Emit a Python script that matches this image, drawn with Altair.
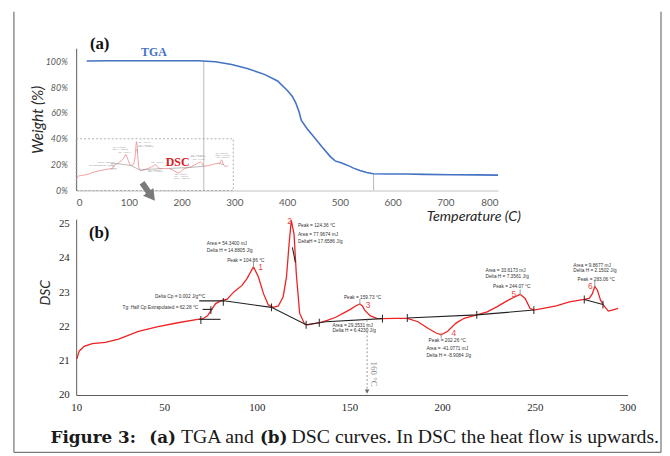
import altair as alt
import pandas as pd

# ---------------- (a) TGA ----------------
TGA_T = [20, 60, 120, 180, 232, 264, 295, 326, 357, 382, 401, 410, 416, 423, 427,
         438, 451, 466, 482, 491, 501, 513, 526, 538, 551, 563, 590, 625, 660, 713, 760, 800]
TGA_W = [100.2, 100.3, 100.3, 100.3, 100.3, 99.5, 97.4, 94.1, 89.8, 84.7, 77.1, 72.7, 68.2, 60.5, 54.2,
         47.8, 41.4, 33.8, 26.2, 22.9, 21.6, 19.8, 17.3, 15.5, 14.0, 13.0, 12.8, 12.7, 12.5, 12.2, 12.1, 11.9]
TGA_GUIDE_T = [242, 564]
TGA_GUIDE_W = [100.3, 13.0]
INSET_T = [0, 298]
INSET_W = [0, 40]
ARROW_T = [125, 143]
ARROW_W = [6.0, -4.5]
TGA_TICKS = [0, 100, 200, 300, 400, 500, 600, 700, 800]
WEIGHT_TICKS = [0, 20, 40, 60, 80, 100]

# ---------------- (b) DSC ----------------
DSC_T = [2.9, 4.1, 6.8, 11.2, 18.3, 25.4, 36.1, 46.7, 57.4, 68.0, 70.7, 73.4, 76.0, 77.8, 80.4,
         84.0, 87.6, 92.0, 94.7, 98.2, 100.9, 103.6, 106.2, 108.9, 111.6, 114.2, 116.0, 117.4,
         118.6, 120.1, 121.3, 123.1, 125.7, 127.5, 133.7, 138.0, 142.6, 147.0, 150.5, 153.3,
         155.6, 157.0, 158.2, 161.3, 164.8, 167.8, 174.6, 181.2, 187.0, 192.3, 196.8, 199.5,
         203.0, 207.5, 211.9, 218.7, 224.3, 229.7, 235.0, 239.4, 242.1, 244.8, 247.4, 249.5,
         254.5, 261.6, 268.7, 276.7, 279.4, 281.1, 282.4, 283.8, 285.5, 287.4, 289.7, 291.8, 295.0]
DSC_V = [21.06, 21.28, 21.42, 21.50, 21.54, 21.63, 21.86, 22.00, 22.11, 22.21, 22.22, 22.31, 22.53, 22.67, 22.75,
         22.80, 23.01, 23.20, 23.40, 23.75, 23.44, 22.96, 22.63, 22.56, 22.60, 22.87, 23.44, 24.41,
         25.10, 24.69, 23.54, 22.39, 22.08, 22.05, 22.11, 22.18, 22.27, 22.40, 22.50, 22.60,
         22.66, 22.60, 22.48, 22.31, 22.24, 22.23, 22.24, 22.24, 22.14, 21.95, 21.81, 21.76,
         21.86, 22.10, 22.24, 22.34, 22.43, 22.58, 22.75, 22.87, 22.94, 22.82, 22.53, 22.48,
         22.53, 22.60, 22.72, 22.79, 22.82, 22.96, 23.17, 23.06, 22.77, 22.60, 22.45, 22.48, 22.53]

BASE_SEG = ["a"] * 6 + ["b"] * 2 + ["c"] * 2 + ["d"] * 3 + ["e"] * 2 + ["f"] * 2
BASE_T = [68.9, 82.2, 107.9, 126.6, 137.3, 167.8, 68.9, 80.4, 70.7, 76.0,
          181.2, 218.7, 249.5, 276.7, 286.8, 119.2, 120.8]
BASE_V = [22.75, 22.75, 22.56, 22.05, 22.14, 22.23, 22.21, 22.21, 22.50, 22.50,
          22.25, 22.34, 22.48, 22.79, 22.64, 24.31, 23.87]

TICK_T = [69.8, 75.2, 81.9, 107.9, 126.6, 133.7, 167.8, 181.2, 218.7, 249.5, 276.7, 286.8]
TICK_V = [22.19, 22.48, 22.72, 22.56, 22.05, 22.11, 22.23, 22.25, 22.34, 22.48, 22.79, 22.64]

PEAK_MARK_T = [98.2, 155.6, 199.5, 242.1, 282.4]
PEAK_MARK_V = [23.80, 22.72, 21.74, 23.00, 23.24]

PEAK_NUM = ["1", "2", "3", "4", "5", "6"]
PEAK_NUM_T = [100.8, 116.4, 158.8, 205.0, 237.4, 278.7]
PEAK_NUM_V = [23.73, 25.08, 22.62, 21.80, 22.96, 23.18]

ANN_TEXT = ["Area = 54.3400 mJ", "Delta H = 14.8805 J/g", "Peak = 104.86 °C",
            "Delta Cp = 0.002 J/g*°C", "Tg: Half Cp Extrapolated = 62.28 °C",
            "Peak = 124.36 °C", "Area = 77.9674 mJ", "DeltaH = 17.6586 J/g",
            "Peak = 159.73 °C", "Area = 29.3531 mJ", "Delta H = 6.4230 J/g",
            "Peak = 202.26 °C", "Area = -41.0771 mJ", "Delta H = -8.9084 J/g",
            "Peak = 244.07 °C", "Area = 33.6173 mJ", "Delta H = 7.3561 J/g",
            "Peak = 283.06 °C", "Area = 9.8677 mJ", "Delta H = 2.1502 J/g"]
ANN_T = [73.0, 73.0, 84.0, 45.0, 27.5, 122.2, 122.2, 122.2, 147.0, 140.9, 140.9,
         192.7, 191.5, 191.5, 227.5, 223.4, 223.4, 273.1, 270.8, 270.8]
ANN_V = [24.41, 24.20, 23.92, 22.87, 22.53, 24.93, 24.66, 24.48, 22.84, 22.02, 21.86,
         21.59, 21.33, 21.15, 23.15, 23.61, 23.44, 23.37, 23.78, 23.61]

GUIDE_T = 159.5
GUIDE_V = [22.2, 20.0]
GUIDE_LABEL = "160 °C"
DSC_TICKS = [2.5, 50, 100, 150, 200, 250, 300]
DSC_Y_TICKS = [20, 21, 22, 23, 24, 25]

CAPTION_PARTS = ["Figure 3:", "(a)", "TGA and", "(b)", "DSC curves. In DSC the heat flow is upwards."]
CAPTION_BOLD = [True, True, False, True, False]

# ---------------- layout constants ----------------
CAPTION_X = [-26, 74, 106, 186, 218]
SANS = "Lato"
SERIF = "Liberation Serif"

# ================= TGA chart =================
tga_x_axis = alt.Axis(values=TGA_TICKS, grid=False, ticks=False, domainColor="#BFBFBF",
                      labelColor="#595959", labelFont=SANS, labelFontSize=10, labelPadding=7,
                      title="Temperature (C)", titleFont=SANS, titleFontSize=14.5,
                      titleFontStyle="italic", titleFontWeight="normal", titleColor="#262626",
                      titleX=402, titleY=26, titleAlign="center", titleBaseline="middle")
tga_y_axis = alt.Axis(values=WEIGHT_TICKS, labelExpr="datum.value + '%'", grid=False, ticks=False,
                      domainColor="#595959", labelColor="#595959", labelFont=SANS,
                      labelFontSize=9, labelFontStyle="italic", labelPadding=9,
                      title="Weight (%)", titleFont=SANS, titleFontSize=15.5,
                      titleFontStyle="italic", titleFontWeight="normal", titleColor="#262626",
                      titleX=-39, titleY=72, titleAngle=270, titleAlign="center",
                      titleBaseline="middle")

TX = alt.X("x:Q", scale=alt.Scale(domain=[0, 800], nice=False, zero=False), axis=tga_x_axis)
TY = alt.Y("y:Q", scale=alt.Scale(domain=[0, 110], nice=False, zero=False), axis=tga_y_axis)

tga_df = pd.DataFrame({"x": TGA_T, "y": TGA_W})
guide_df = pd.DataFrame({"x": TGA_GUIDE_T, "y": TGA_GUIDE_W, "y2": [0, 0]})
inset_df = pd.DataFrame({"x": [INSET_T[0]], "x2": [INSET_T[1]], "y": [INSET_W[0]], "y2": [INSET_W[1]]})
dsc_src = pd.DataFrame({"t": DSC_T, "v": DSC_V})
base_src = pd.DataFrame({"seg": BASE_SEG, "t": BASE_T, "v": BASE_V})
ann_src = pd.DataFrame({"t": ANN_T, "v": ANN_V, "label": ANN_TEXT})
one = pd.DataFrame({"k": [0]})

inset_box = alt.Chart(inset_df).mark_rect(fillOpacity=0, stroke="#9a9a9a", strokeWidth=0.8,
                                          strokeDash=[2, 2]).encode(
    x=TX, x2="x2:Q", y=TY, y2="y2:Q")
guides = alt.Chart(guide_df).mark_rule(color="#B0B0B0", strokeWidth=0.9).encode(x=TX, y=TY, y2="y2:Q")

mini_calc = dict(x="(datum.t - 2.5) * 0.984", y="0.7 + (datum.v - 20) * 7.28")
mini_curve = alt.Chart(dsc_src).transform_calculate(**mini_calc).mark_line(
    color="#F08888", strokeWidth=0.8).encode(x=TX, y=TY)
mini_base = alt.Chart(base_src).transform_calculate(**mini_calc).mark_line(
    color="#8a8a8a", strokeWidth=0.6).encode(x=TX, y=TY, detail="seg:N")
mini_text = alt.Chart(ann_src).transform_calculate(**mini_calc).mark_text(
    fontSize=1.6, align="left", color="#8a8a8a", font=SANS).encode(x=TX, y=TY, text="label:N")

tga_line = alt.Chart(tga_df).mark_line(color="#4472C4", strokeWidth=1.6).encode(x=TX, y=TY)

arrow_df = pd.DataFrame({"x": [ARROW_T[0]], "y": [ARROW_W[0]], "x2": [ARROW_T[1]], "y2": [ARROW_W[1]]})
arrow_shaft = alt.Chart(arrow_df).mark_rule(color="#7a7a7a", strokeWidth=6).encode(
    x=TX, y=TY, x2="x2:Q", y2="y2:Q")
arrow_head = alt.Chart(pd.DataFrame({"x": [ARROW_T[1]], "y": [ARROW_W[1]]})).mark_point(
    shape="triangle-right", filled=True, size=170, angle=53, color="#7a7a7a", opacity=1).encode(x=TX, y=TY)

lab_a = alt.Chart(pd.DataFrame({"x": [26], "y": [113.5], "label": ["(a)"]})).mark_text(
    font=SERIF, fontSize=17, fontWeight="bold", align="left", baseline="middle", color="#111").encode(
    x=TX, y=TY, text="label:N")
lab_tga = alt.Chart(pd.DataFrame({"x": [123], "y": [106.9], "label": ["TGA"]})).mark_text(
    font=SERIF, fontSize=12, fontWeight="bold", align="left", baseline="middle", color="#4472C4").encode(
    x=TX, y=TY, text="label:N")
lab_dsc = alt.Chart(pd.DataFrame({"x": [170], "y": [21.8], "label": ["DSC"]})).mark_text(
    font=SERIF, fontSize=12, fontWeight="bold", align="left", baseline="middle", color="#D42020").encode(
    x=TX, y=TY, text="label:N")

FRAME = "#555555"
frame_l = alt.Chart(one).mark_rule(color=FRAME, strokeWidth=1).encode(
    x=alt.value(-63), y=alt.value(-37), y2=alt.value(409))
frame_r = alt.Chart(one).mark_rule(color=FRAME, strokeWidth=1).encode(
    x=alt.value(592), y=alt.value(-37), y2=alt.value(409))
frame_b = alt.Chart(one).mark_rule(color=FRAME, strokeWidth=1).encode(
    x=alt.value(-63), x2=alt.value(592), y=alt.value(409))

tga = alt.layer(inset_box, guides, mini_curve, mini_base, mini_text, tga_line,
                arrow_shaft, arrow_head, lab_a, lab_tga, lab_dsc,
                frame_l, frame_r, frame_b).properties(width=427, height=144)

# ================= DSC chart =================
dsc_x_axis = alt.Axis(values=DSC_TICKS, labelExpr="datum.value < 10 ? '10' : format(datum.value, 'd')",
                      grid=False, ticks=False, domainColor="#595959", labelFont=SERIF,
                      labelFontSize=11, labelColor="#262626", labelPadding=7, labelFlush=False,
                      title="")
dsc_y_axis = alt.Axis(values=DSC_Y_TICKS, grid=False, ticks=False, domainColor="#595959",
                      labelFont=SERIF, labelFontSize=11, labelColor="#262626", labelPadding=7,
                      title="DSC", titleFont=SANS, titleFontSize=14, titleFontStyle="italic",
                      titleFontWeight="normal", titleColor="#262626", titleX=-31, titleY=74,
                      titleAngle=270, titleAlign="center", titleBaseline="middle")

DX = alt.X("t:Q", scale=alt.Scale(domain=[2.5, 300], nice=False, zero=False), axis=dsc_x_axis)
DY = alt.Y("v:Q", scale=alt.Scale(domain=[20, 25.135], nice=False, zero=False), axis=dsc_y_axis)

dsc_line = alt.Chart(dsc_src).mark_line(color="#EE2222", strokeWidth=1.3).encode(x=DX, y=DY)
dsc_base = alt.Chart(base_src).mark_line(color="#222222", strokeWidth=1.1).encode(x=DX, y=DY, detail="seg:N")
dsc_ticks = alt.Chart(pd.DataFrame({"t": TICK_T, "v": TICK_V})).mark_tick(
    orient="vertical", size=8, thickness=1, color="#222222", opacity=1).encode(x=DX, y=DY)
peak_marks = alt.Chart(pd.DataFrame({"t": PEAK_MARK_T, "v": PEAK_MARK_V})).mark_tick(
    orient="vertical", size=6, thickness=1, color="#9a9a9a", opacity=1).encode(x=DX, y=DY)
peak_nums = alt.Chart(pd.DataFrame({"t": PEAK_NUM_T, "v": PEAK_NUM_V, "label": PEAK_NUM})).mark_text(
    font="Liberation Sans", fontSize=8.5, color="#E84848", align="left", baseline="middle").encode(
    x=DX, y=DY, text="label:N")
ann = alt.Chart(ann_src).mark_text(font="Liberation Sans", fontSize=4.8, color="#333333",
                                   align="left", baseline="middle").encode(x=DX, y=DY, text="label:N")

guide160 = alt.Chart(pd.DataFrame({"t": [GUIDE_T], "v": [GUIDE_V[0]], "v2": [GUIDE_V[1]]})).mark_rule(
    color="#8a8a8a", strokeWidth=0.9, strokeDash=[2, 2]).encode(x=DX, y=DY, y2="v2:Q")
guide_head = alt.Chart(pd.DataFrame({"t": [GUIDE_T], "v": [20.1]})).mark_point(
    shape="triangle-down", filled=True, size=22, color="#6a6a6a", opacity=1).encode(x=DX, y=DY)
guide_text = alt.Chart(pd.DataFrame({"t": [163.3], "v": [20.61], "label": [GUIDE_LABEL]})).mark_text(
    font=SERIF, fontSize=9, color="#8a8a8a", angle=90, align="center", baseline="middle").encode(
    x=DX, y=DY, text="label:N")

lab_b = alt.Chart(pd.DataFrame({"t": [9.4], "v": [24.74], "label": ["(b)"]})).mark_text(
    font=SERIF, fontSize=17, fontWeight="bold", align="left", baseline="middle", color="#111").encode(
    x=DX, y=DY, text="label:N")

caption_layers = []
for part, bold, cx in zip(CAPTION_PARTS, CAPTION_BOLD, CAPTION_X):
    caption_layers.append(
        alt.Chart(one).mark_text(text=part, font="DejaVu Serif" if bold else SERIF,
                                 fontSize=17 if bold else 20,
                                 fontWeight="bold" if bold else "normal",
                                 align="left", baseline="alphabetic", color="#1a1a1a").encode(
            x=alt.value(cx), y=alt.value(227)))

dsc = alt.layer(dsc_line, dsc_base, dsc_ticks, peak_marks, peak_nums, ann,
                guide160, guide_head, guide_text, lab_b, *caption_layers).properties(width=558, height=178)

chart = alt.vconcat(tga, dsc, spacing=29, bounds="flush").properties(
    padding={"left": 5, "top": 0, "right": 0, "bottom": 0}
).configure_view(strokeWidth=0)

chart.save("out.html", embed_options={"renderer": "svg", "actions": False})
